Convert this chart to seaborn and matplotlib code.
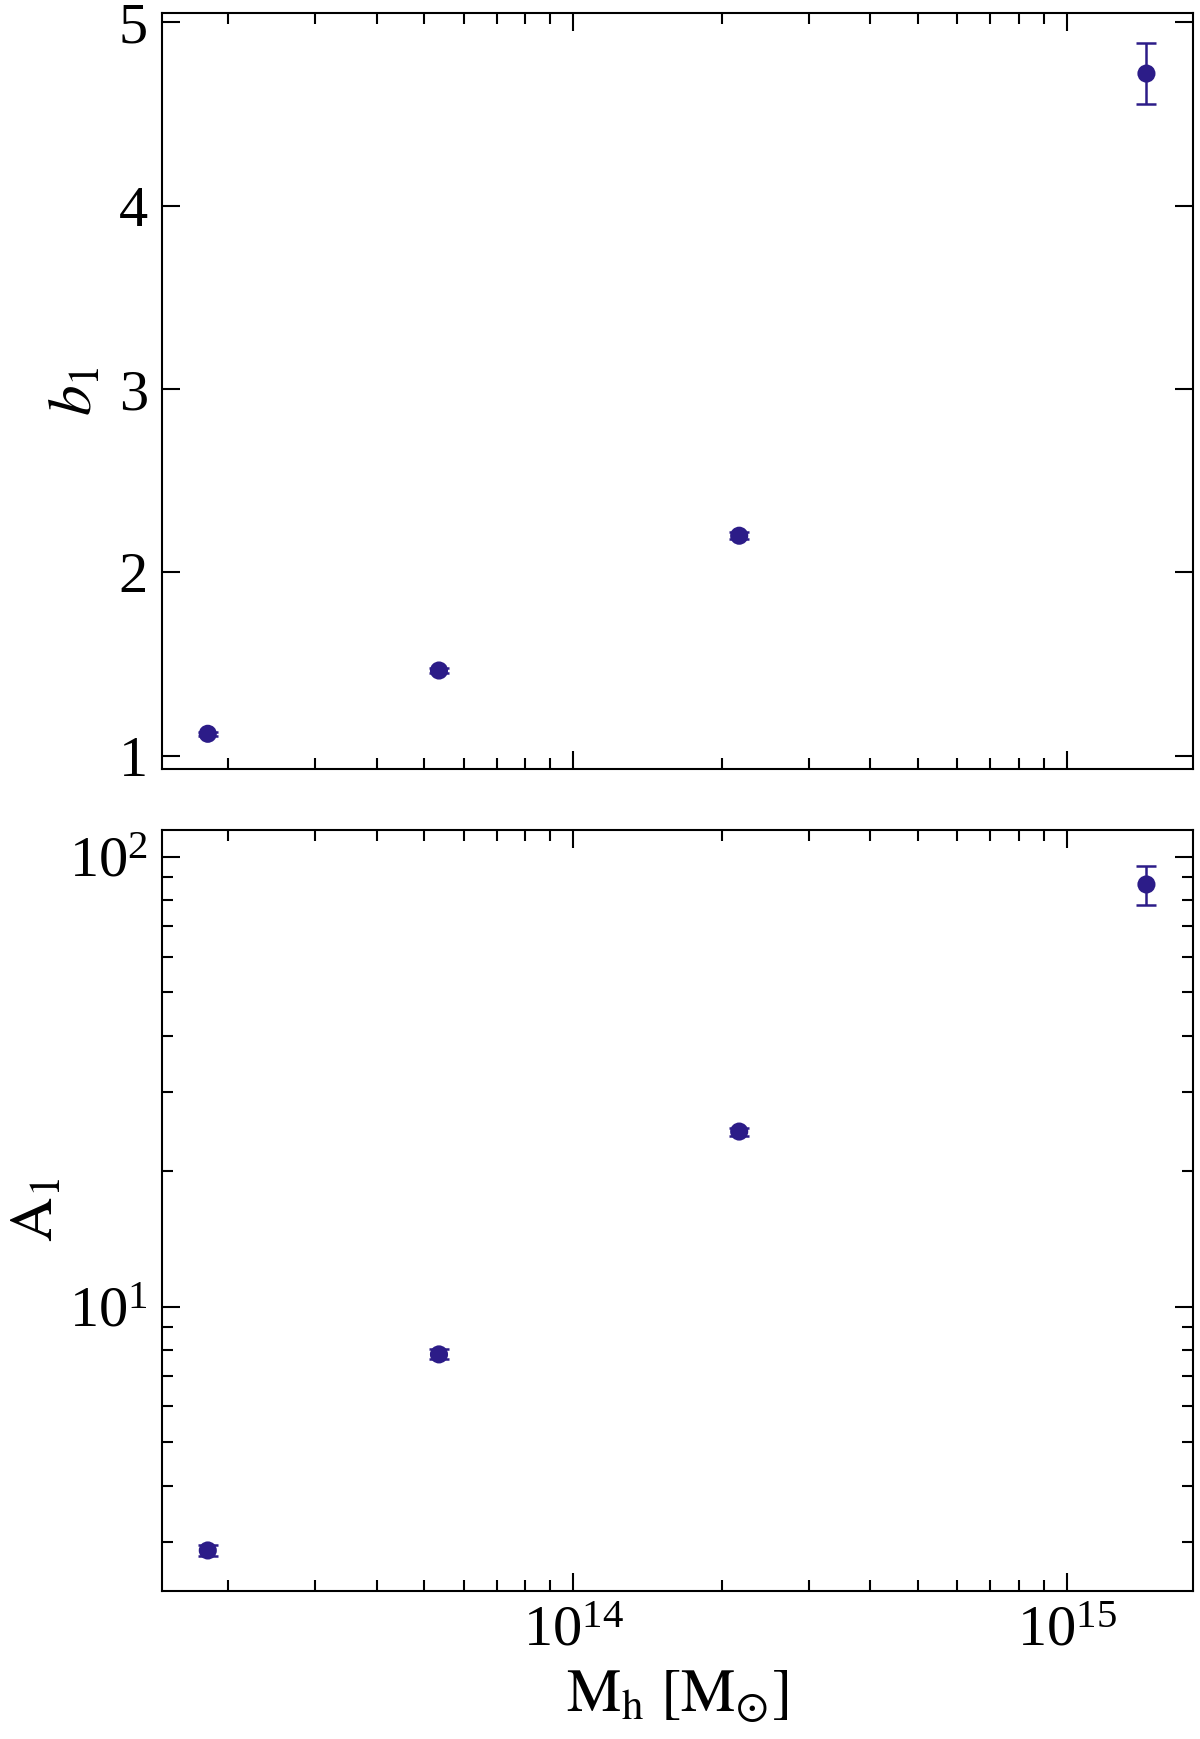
import numpy as np
import pandas as pd
import seaborn as sns
import matplotlib.pyplot as plt

# halo mass bins and fitted parameters
mass = [1.82e13, 5.35e13, 2.17e14, 1.45e15]
b1 = [1.12, 1.465, 2.20, 4.72]
b1_err = [0.012, 0.015, 0.02, 0.165]
A1 = [2.87, 7.83, 24.5, 86.8]
A1_err = [0.08, 0.2, 0.5, 8.5]

color = '#2c1c88'

sns.set_theme(style='ticks')
plt.rcParams['font.family'] = ['Liberation Serif', 'DejaVu Serif']
plt.rcParams['mathtext.fontset'] = 'stix'
plt.rcParams['text.color'] = 'black'
plt.rcParams['axes.labelcolor'] = 'black'
plt.rcParams['xtick.color'] = 'black'
plt.rcParams['ytick.color'] = 'black'

df = pd.DataFrame({'M': mass, 'b1': b1, 'A1': A1})

fig = plt.figure(figsize=(12, 17.39), dpi=100)
ax1 = fig.add_axes([0.135, 0.558, 0.859, 0.4345])
ax2 = fig.add_axes([0.135, 0.085, 0.859, 0.438])

for ax, col, err in [(ax1, 'b1', b1_err), (ax2, 'A1', A1_err)]:
    ax.errorbar(df['M'], df[col], yerr=err, fmt='none', ecolor=color,
                elinewidth=1.8, capsize=7.5, capthick=1.8, zorder=2)
    sns.scatterplot(data=df, x='M', y=col, ax=ax, color=color, s=170,
                    edgecolor='none', zorder=3)
    ax.set_xscale('log')
    ax.set_xlim(1.47e13, 1.80e15)
    ax.tick_params(which='both', direction='in', top=True, right=True,
                   width=1.5, labelsize=42, pad=10)
    ax.tick_params(which='major', length=13)
    ax.tick_params(which='minor', length=8)
    for s in ax.spines.values():
        s.set_linewidth(1.5)
        s.set_color('black')

ax1.set_ylim(0.93, 5.05)
ax1.set_yticks([1, 2, 3, 4, 5])
ax1.tick_params(axis='x', labelbottom=False)
ax1.set_xlabel('')
ax1.set_ylabel('$b_1$', fontsize=44)
ax1.yaxis.set_label_coords(-0.055, 0.5)

ax2.set_yscale('log')
ax2.set_ylim(2.33, 115)
ax2.set_ylabel('$\\mathrm{A}_1$', fontsize=44)
ax2.yaxis.set_label_coords(-0.093, 0.5)
ax2.set_xlabel('$\\mathrm{M_h}\\ [\\mathrm{M}_{\\odot}]$', fontsize=44, labelpad=8)

fig.savefig('out.png', dpi=100)
